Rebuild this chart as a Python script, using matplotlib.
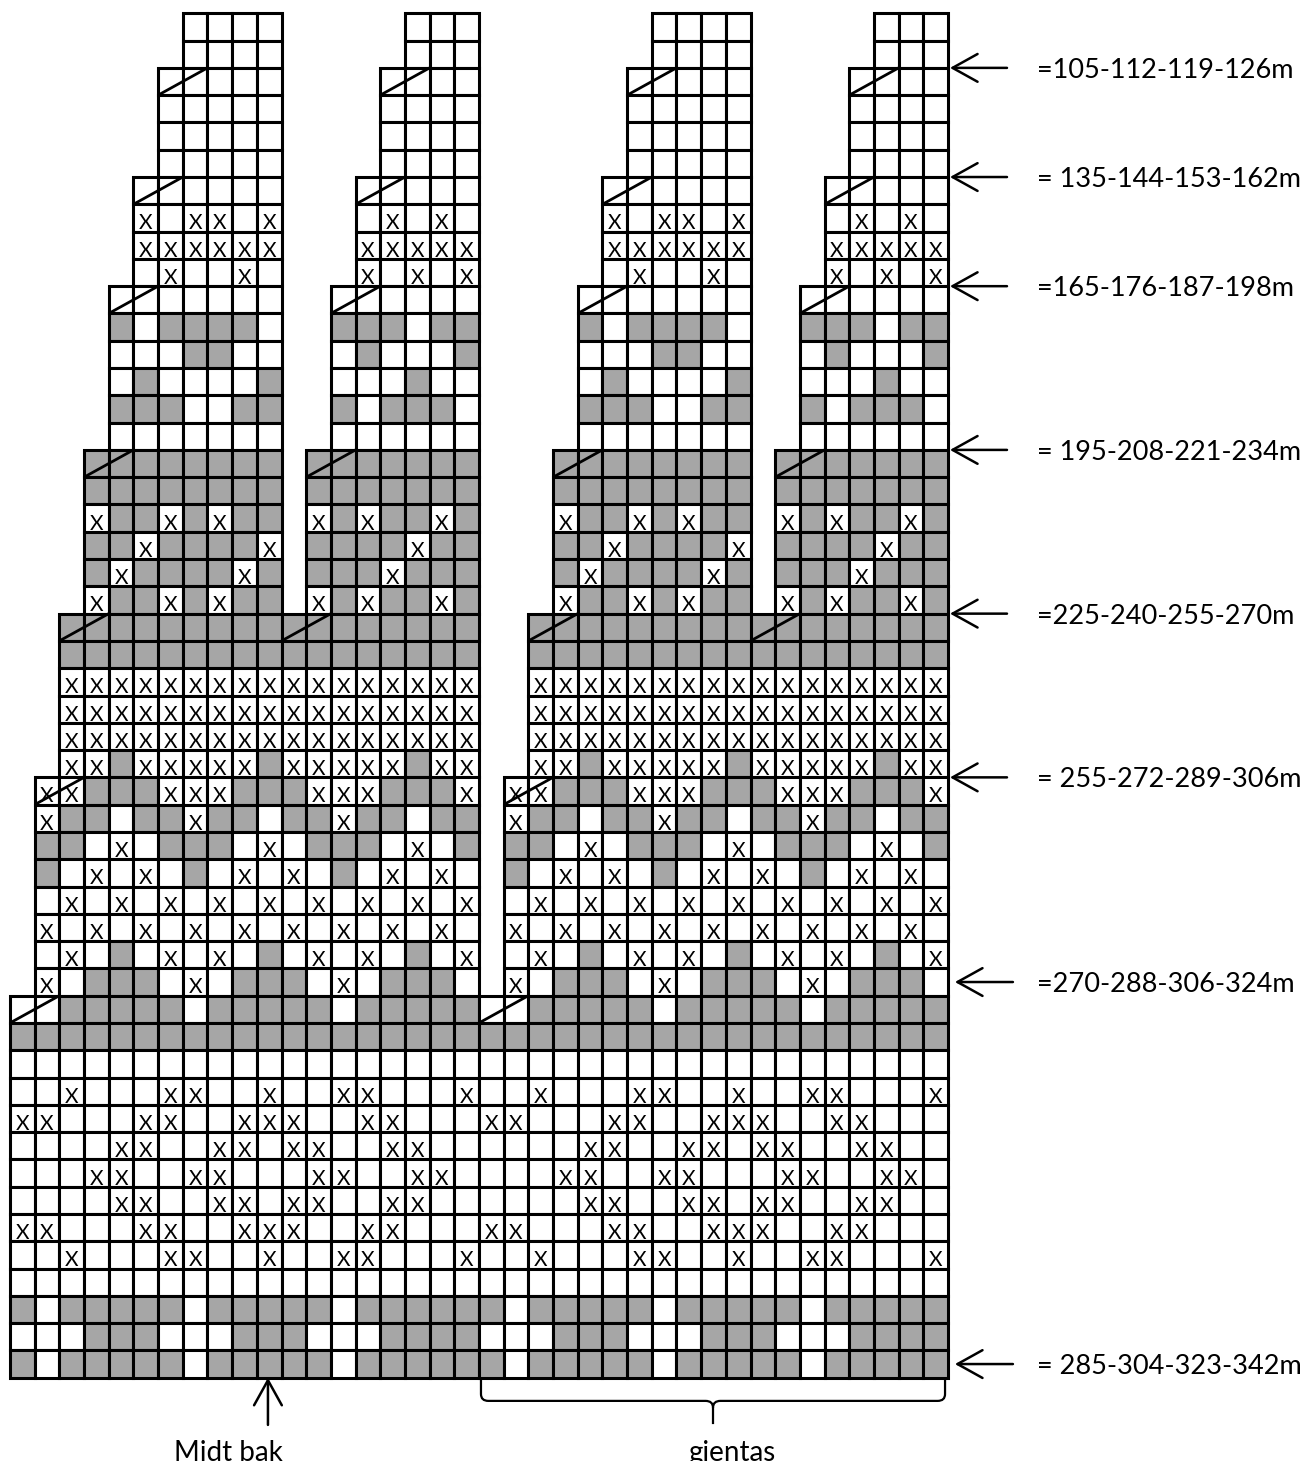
import matplotlib
matplotlib.use('Agg')
import matplotlib.pyplot as plt
from matplotlib.patches import Rectangle, PathPatch
from matplotlib.path import Path

# ---------------- data ----------------
# one pattern repeat (19 stitches), rows listed top -> bottom
# '.' = no stitch, 'o' = white, 'g' = grey, 'x' = white with X
pattern_rows = [
    ".......oooo.....ooo",
    ".......oooo.....ooo",
    "......ooooo....oooo",
    "......ooooo....oooo",
    "......ooooo....oooo",
    "......ooooo....oooo",
    ".....oooooo...ooooo",
    ".....xoxxox...oxoxo",
    ".....xxxxxx...xxxxx",
    ".....oxooxo...xoxox",
    "....ooooooo..oooooo",
    "....goggggo..gggogg",
    "....oooggoo..ogooog",
    "....ogoooog..ooogoo",
    "....gggoogg..gogggo",
    "....ooooooo..oooooo",
    "...gggggggg.ggggggg",
    "...gggggggg.ggggggg",
    "...xggxgxgg.xgxggxg",
    "...ggxggggx.ggggxgg",
    "...gxggggxg.gggxggg",
    "...xggxgxgg.xgxggxg",
    "..ggggggggggggggggg",
    "..ggggggggggggggggg",
    "..xxxxxxxxxxxxxxxxx",
    "..xxxxxxxxxxxxxxxxx",
    "..xxxxxxxxxxxxxxxxx",
    "..xxgxxxxxgxxxxxgxx",
    ".xxgggxxxgggxxxgggx",
    ".xggoggxggoggxggogg",
    ".ggoxogggoxogggoxog",
    ".goxoxogoxoxogoxoxo",
    ".oxoxoxoxoxoxoxoxox",
    ".xoxoxoxoxoxoxoxoxo",
    ".oxogoxoxogoxoxogox",
    ".xogggoxogggoxogggo",
    "oogggggogggggoggggg",
    "ggggggggggggggggggg",
    "ooooooooooooooooooo",
    "ooxoooxxooxooxxooox",
    "xxoooxxooxxxooxxooo",
    "ooooxxooxxoxxooxxoo",
    "oooxxooxxoooxxooxxo",
    "ooooxxooxxoxxooxxoo",
    "xxoooxxooxxxooxxooo",
    "ooxoooxxooxooxxooox",
    "ooooooooooooooooooo",
    "gogggggogggggoggggg",
    "ooogggooogggooogggg",
    "gogggggogggggoggggg",
]
# decrease marks: (row from top, first stitch of the 2-stitch diagonal)
diagonals = [(2, 6), (2, 15), (6, 5), (6, 14), (10, 4), (10, 13),
             (16, 3), (16, 12), (22, 2), (22, 11), (28, 1), (36, 0)]
repeats = 2
repeat_width = 19

labels = ["=105-112-119-126m", "= 135-144-153-162m", "=165-176-187-198m",
          "= 195-208-221-234m", "=225-240-255-270m", "= 255-272-289-306m",
          "=270-288-306-324m", "= 285-304-323-342m"]
label_rows = [48, 44, 40, 34, 28, 22, 14.5, 0.5]   # row level (from bottom)

midt_bak_text = "Midt bak"
midt_bak_col = 10.45
repeat_text = "gjentas"

# ---------------- drawing ----------------
W, H = 1303, 1461
FONT = ['Lato', 'DejaVu Sans']
GREY = '#a6a6a6'
fig = plt.figure(figsize=(W / 100, H / 100), dpi=100)
ax = fig.add_axes([10 / W, (H - 1377.7) / H, 938 / W, 1364.4 / H])
n_rows = len(pattern_rows)
n_cols = repeats * repeat_width
ax.set_xlim(0, n_cols)
ax.set_ylim(0, n_rows)
ax.axis('off')

colors = {'o': 'white', 'x': 'white', 'g': GREY}
for t, row in enumerate(pattern_rows):
    y = n_rows - 1 - t
    for rep in range(repeats):
        for c, ch in enumerate(row):
            if ch == '.':
                continue
            x = rep * repeat_width + c
            ax.add_patch(Rectangle((x, y), 1, 1, facecolor=colors[ch],
                                   edgecolor='black', lw=2.2, clip_on=False))
            if ch == 'x':
                ax.text(x + 0.5, y + 0.08, 'X', ha='center', va='baseline',
                        fontsize=15, family=FONT, clip_on=False, zorder=5)

for t, c in diagonals:
    y = n_rows - 1 - t
    for rep in range(repeats):
        x = rep * repeat_width + c
        ax.plot([x, x + 2], [y, y + 1], color='black', lw=2.0,
                solid_capstyle='butt', clip_on=False, zorder=6)

arrow_style = '->,head_length=0.9,head_width=0.5'
for lab, ry in zip(labels, label_rows):
    centre = (ry % 1) != 0
    tip = n_cols + (0.28 if centre else 0.08)
    tail = n_cols + (2.63 if centre else 2.39)
    ax.annotate('', xy=(tip, ry), xytext=(tail, ry),
                arrowprops=dict(arrowstyle=arrow_style, lw=1.8, color='black',
                                mutation_scale=20, shrinkA=0, shrinkB=0),
                annotation_clip=False)
    ax.text(n_cols + 3.61, ry - 0.37, lab, ha='left', va='baseline',
            fontsize=19.5, family=FONT, clip_on=False)

# Midt bak arrow + text
ax.annotate('', xy=(midt_bak_col, 0), xytext=(midt_bak_col, -1.73),
            arrowprops=dict(arrowstyle=arrow_style, lw=1.8, color='black',
                            mutation_scale=20, shrinkA=0, shrinkB=0),
            annotation_clip=False)
ax.text(8.83, -3.05, midt_bak_text, ha='center', va='baseline',
        fontsize=20, family=FONT, clip_on=False)

# brace under the repeat
x0, x1 = repeat_width + 0.08, n_cols - 0.12
xc = (x0 + x1) / 2
ytop, yh, ytip = -0.08, -0.85, -1.70
rx, ry_ = 0.3, 0.25
verts = [(x0, ytop), (x0, yh + ry_), (x0, yh), (x0 + rx, yh),
         (xc - rx, yh), (xc, yh), (xc, yh - ry_), (xc, ytip),
         (xc, yh - ry_), (xc, yh), (xc + rx, yh),
         (x1 - rx, yh), (x1, yh), (x1, yh + ry_), (x1, ytop)]
codes = [Path.MOVETO, Path.LINETO, Path.CURVE3, Path.CURVE3,
         Path.LINETO, Path.CURVE3, Path.CURVE3, Path.LINETO,
         Path.MOVETO, Path.CURVE3, Path.CURVE3,
         Path.LINETO, Path.CURVE3, Path.CURVE3, Path.LINETO]
ax.add_patch(PathPatch(Path(verts, codes), facecolor='none', edgecolor='black',
                       lw=1.6, clip_on=False))
ax.text(xc + 0.75, -3.05, repeat_text, ha='center', va='baseline',
        fontsize=20, family=FONT, clip_on=False)

fig.savefig('out.png', dpi=100)
